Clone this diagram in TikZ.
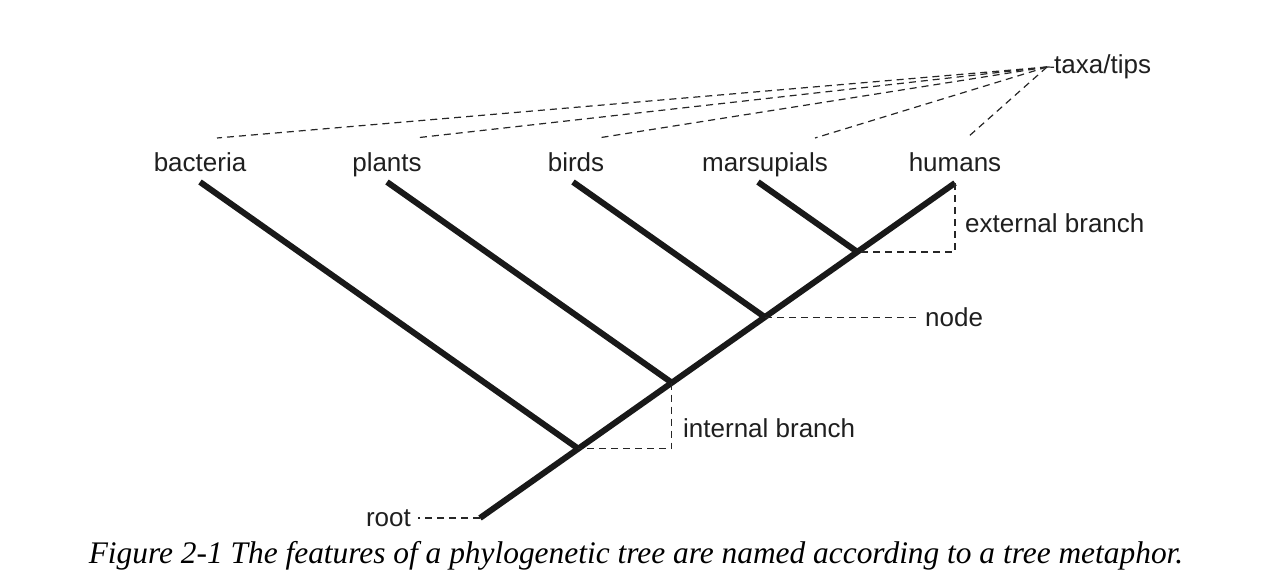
\documentclass[tikz,border=0pt]{standalone}
\usepackage{fontspec}
\setmainfont{Liberation Sans}
\newfontfamily\capfont{Liberation Serif}
\begin{document}
\begin{tikzpicture}[x=1pt,y=-1pt,
  branch/.style={line width=6pt, line cap=butt, color=black!90},
  guide/.style={dash pattern=on 7pt off 5pt, line width=1.2pt, color=black!85},
  lbl/.style={font=\fontsize{26}{30}\selectfont, inner sep=0pt, text=black!88}]
\useasboundingbox (0,0) rectangle (1268,588);
% tree geometry
\coordinate (root) at (480,518);
\coordinate (tH) at (955,183);
\coordinate (tB) at (200,182);
\coordinate (tP) at (387,182);
\coordinate (tBi) at (573,182);
\coordinate (tM) at (758,182);
\coordinate (n1) at (578.3,448.7);
\coordinate (n2) at (671.8,382.7);
\coordinate (n3) at (764.8,317.1);
\coordinate (n4) at (857.3,251.9);
% branches
\draw[branch] (root) -- (tH);
\draw[branch] (tB) -- (n1);
\draw[branch] (tP) -- (n2);
\draw[branch] (tBi) -- (n3);
\draw[branch] (tM) -- (n4);
% tip labels
\node[lbl, anchor=base] (bacteria) at (200,172) {bacteria};
\node[lbl, anchor=base] (plants) at (387,172) {plants};
\node[lbl, anchor=base] (birds) at (576,172) {birds};
\node[lbl, anchor=base] (marsupials) at (765,172) {marsupials};
\node[lbl, anchor=base] (humans) at (955,172) {humans};
% annotation labels
\node[lbl, anchor=base west] (taxa) at (1054,74) {taxa/tips};
\node[lbl, anchor=base west] (ext) at (965,233) {external branch};
\node[lbl, anchor=base west] (nodelbl) at (925,326) {node};
\node[lbl, anchor=base west] (int) at (683,437) {internal branch};
\node[lbl, anchor=base east] (rootlbl) at (411,526) {root};
% dashed guides
\coordinate (conv) at (1047,67);
\coordinate (dB) at (217,138);
\coordinate (dP) at (415,138);
\coordinate (dBi) at (598,138);
\coordinate (dM) at (815,138);
\coordinate (dH) at (968,137);
\draw[guide] (conv) -- (dB);
\draw[guide] (conv) -- (dP);
\draw[guide] (conv) -- (dBi);
\draw[guide] (conv) -- (dM);
\draw[guide] (conv) -- (dH);
\draw[guide] (conv) -- (taxa.west);
\coordinate (nodeend) at (917,317.1);
\draw[guide] (n3) -- (nodeend);
\coordinate (rootend) at (418,518);
\draw[guide] (root) -- (rootend);
\draw[guide] (tH) |- (n4);
\draw[guide] (n2) |- (n1);
% caption
\node[font=\capfont\itshape\fontsize{31.4}{38}\selectfont, inner sep=0pt, anchor=base] (caption) at (636,563) {Figure 2-1 The features of a phylogenetic tree are named according to a tree metaphor.};
\end{tikzpicture}
\end{document}
